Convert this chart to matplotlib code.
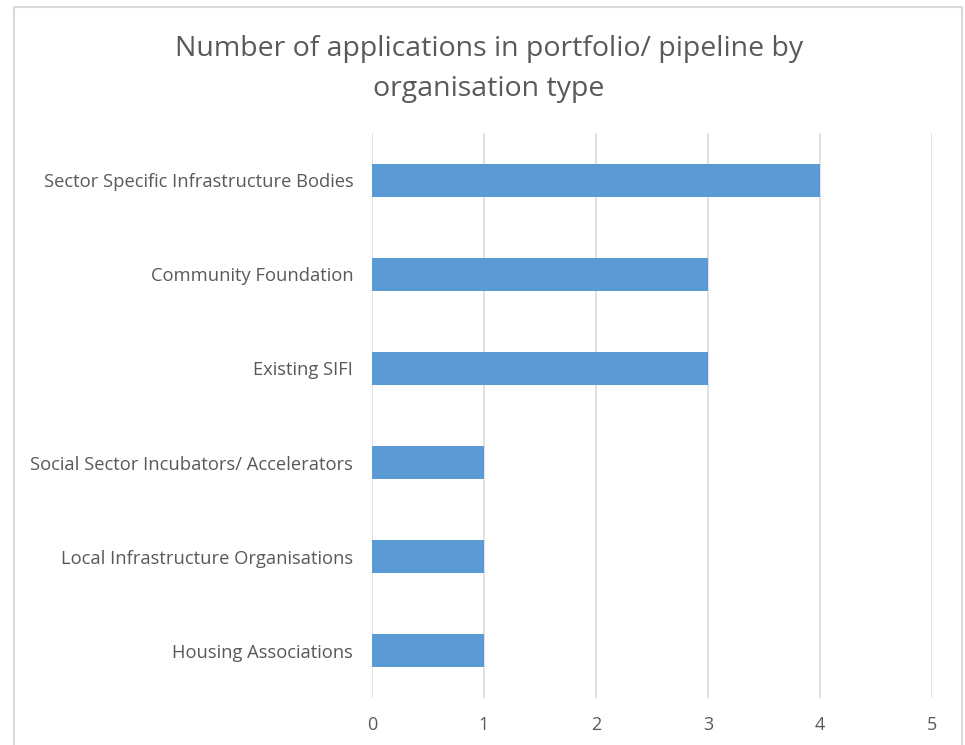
import matplotlib
matplotlib.use("Agg")
import matplotlib.pyplot as plt
from matplotlib.patches import Rectangle

categories = [
    "Sector Specific Infrastructure Bodies",
    "Community Foundation",
    "Existing SIFI",
    "Social Sector Incubators/ Accelerators",
    "Local Infrastructure Organisations",
    "Housing Associations",
]
counts = [4, 3, 3, 1, 1, 1]
x_ticks = [0, 1, 2, 3, 4, 5]
title = "Number of applications in portfolio/ pipeline by\norganisation type"

W, H = 965, 745
fig = plt.figure(figsize=(W / 100, H / 100), dpi=100)
fig.patch.set_facecolor("white")

# chart frame
fig.patches.append(Rectangle((14 / W, -0.05), (962 - 14) / W, (H - 7) / H + 0.05,
                             transform=fig.transFigure, fill=False,
                             edgecolor="#D9D9D9", linewidth=1.5))

left, right, top, bottom = 372, 932, 133, 698
ax = fig.add_axes([left / W, 1 - bottom / H, (right - left) / W, (bottom - top) / H])

font = "Open Sans"
text_color = "#595959"

y = list(range(len(categories)))
ax.barh(y, counts, height=0.35, color="#5B9BD5", zorder=3)
ax.set_ylim(len(categories) - 0.5, -0.5)
ax.set_xlim(x_ticks[0], x_ticks[-1])
ax.set_xticks(x_ticks)
ax.set_xticklabels([str(t) for t in x_ticks], fontsize=13, color=text_color, family=font)
ax.set_yticks(y)
ax.set_yticklabels(categories, fontsize=13.2, color=text_color, family=font)
ax.tick_params(axis="both", length=0)
ax.tick_params(axis="x", pad=13)
ax.tick_params(axis="y", pad=13.5)
ax.grid(axis="x", color="#D9D9D9", linewidth=1.1, zorder=0)
for s in ax.spines.values():
    s.set_visible(False)

fig.text(489 / W, 1 - 69 / H, title, ha="center", va="center", fontsize=20.5,
         color=text_color, family=font, linespacing=1.56)

fig.savefig("out.png", dpi=100)
